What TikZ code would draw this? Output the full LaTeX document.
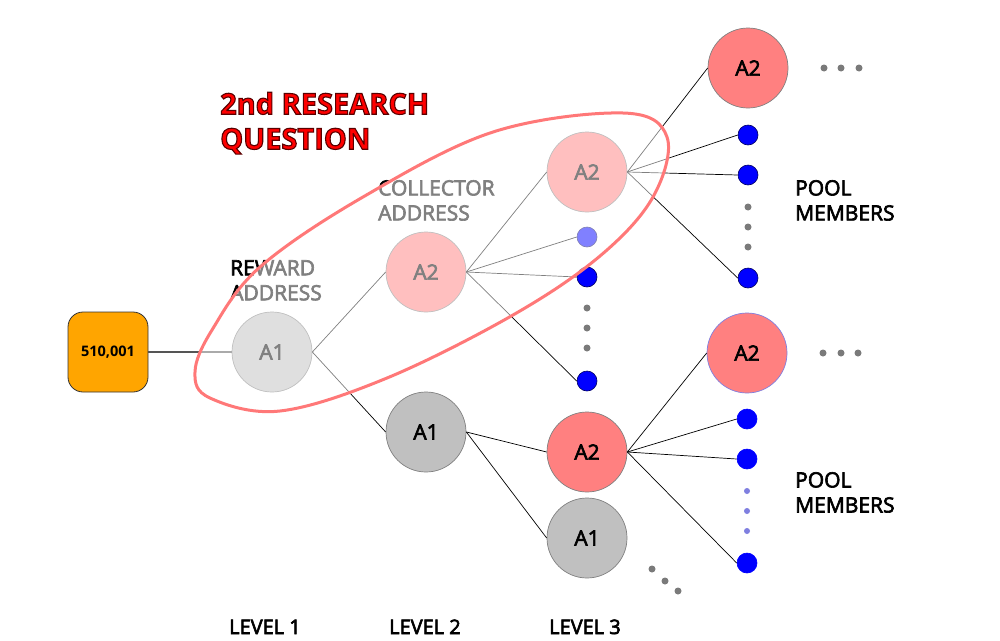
\documentclass[tikz,border=0pt]{standalone}
\usepackage{fontspec}
\setmainfont{Open Sans}
\newfontfamily\labelfont[FakeBold=3]{Open Sans}
\definecolor{orangebox}{HTML}{FFA500}
\definecolor{nodegrey}{HTML}{C0C0C0}
\definecolor{greyline}{HTML}{808080}
\definecolor{pinkA}{HTML}{FF8080}
\definecolor{dotblue}{HTML}{0000FF}
\definecolor{dotline}{HTML}{000060}
\definecolor{smalldot}{HTML}{7A7A7A}
\definecolor{bluish}{HTML}{7F7FE0}
\definecolor{ellred}{HTML}{FF7878}
\definecolor{titlered}{HTML}{FF0000}
\definecolor{srcline}{HTML}{555555}
\newcommand\outltxt[1]{\special{pdf:code q 2 Tr 1.1 w 0.35 0 0 RG}#1\special{pdf:code Q}}
\begin{document}
\begin{tikzpicture}[x=1pt,y=-1pt,
  every node/.style={font=\labelfont\fontsize{21}{25}\selectfont},
  srcbox/.style={rectangle, rounded corners=15pt, minimum size=80pt, inner sep=0pt,
    fill=orangebox, draw=black!80, line width=0.8pt,
    font=\rmfamily\bfseries\fontsize{14.5}{16}\selectfont},
  gnode/.style={circle, minimum size=80pt, inner sep=0pt, fill=nodegrey, draw=greyline, line width=0.7pt},
  rnode/.style={circle, minimum size=80pt, inner sep=0pt, fill=pinkA, draw=greyline, line width=0.7pt},
  bdot/.style={circle, minimum size=20pt, inner sep=0pt, fill=dotblue, draw=dotline, line width=0.6pt},
  bdotb/.style={circle, minimum size=20pt, inner sep=0pt, fill=dotblue, draw=dotblue, line width=0.6pt},
  gdot/.style={circle, minimum size=7pt, inner sep=0pt, fill=smalldot},
  ldot/.style={circle, minimum size=6pt, inner sep=0pt, fill=bluish},
  conn/.style={draw=black, line width=0.7pt},
  lbl/.style={anchor=north west, inner sep=0pt, align=left},
  lvl/.style={anchor=base, inner sep=0pt, font=\labelfont\fontsize{20}{24}\selectfont}
]
\path[fill=white] (0,0) rectangle (1000,640);
\useasboundingbox (0,0) rectangle (1000,640);

% nodes
\node[srcbox] (src) at (108,352) {510,001};
\node[gnode] (l1) at (272,352) {A1};
\node[rnode] (l2a) at (426,272) {A2};
\node[gnode] (l2b) at (426,432) {A1};
\node[rnode] (l3a) at (587,172) {A2};
\node[bdot] (d1) at (587,237) {};
\node[bdot] (d2) at (587,277) {};
\node[gdot] (g1) at (587,308) {};
\node[gdot] (g2) at (587,328) {};
\node[gdot] (g3) at (587,348) {};
\node[bdot] (d3) at (587,381) {};
\node[rnode] (l3b) at (587,452) {A2};
\node[gnode] (l3c) at (587,538) {A1};
\node[gdot] (e1) at (652,569) {};
\node[gdot] (e2) at (665,581) {};
\node[gdot] (e3) at (678,591) {};

\node[rnode] (l4a) at (748,68) {A2};
\node[gdot] (h1) at (824,68) {};
\node[gdot] (h2) at (841,68) {};
\node[gdot] (h3) at (859,68) {};
\node[bdot] (p1) at (748,135) {};
\node[bdot] (p2) at (748,175) {};
\node[gdot] (pg1) at (748,207) {};
\node[gdot] (pg2) at (748,227) {};
\node[gdot] (pg3) at (748,247) {};
\node[bdot] (p3) at (748,278) {};

\node[rnode, draw=bluish] (l4b) at (747,353) {A2};
\node[gdot] (k1) at (823,353) {};
\node[gdot] (k2) at (841,353) {};
\node[gdot] (k3) at (858,353) {};
\node[bdotb] (q1) at (747,419) {};
\node[bdotb] (q2) at (747,459) {};
\node[ldot] (qg1) at (747,491) {};
\node[ldot] (qg2) at (747,511) {};
\node[ldot] (qg3) at (747,531) {};
\node[bdotb] (q3) at (747,563) {};

% connectors
\draw[draw=srcline, line width=1.4pt] (src.east) -- (l1.west);
\draw[conn] (l1.east) -- (l2a.west);
\draw[conn] (l1.east) -- (l2b.west);
\draw[conn] (l2a.east) -- (l3a.west);
\draw[conn] (l2a.east) -- (d1.west);
\draw[conn] (l2a.east) -- (d2.west);
\draw[conn] (l2a.east) -- (d3.west);
\draw[conn] (l2b.east) -- (l3b.west);
\draw[conn] (l2b.east) -- (l3c.west);
\draw[conn] (l3a.east) -- (l4a.west);
\draw[conn] (l3a.east) -- (p1.west);
\draw[conn] (l3a.east) -- (p2.west);
\draw[conn] (l3a.east) -- (p3.west);
\draw[conn] (l3b.east) -- (l4b.west);
\draw[conn] (l3b.east) -- (q1.west);
\draw[conn] (l3b.east) -- (q2.west);
\draw[conn] (l3b.east) -- (q3.west);

% labels under the overlay
\node[lbl] (rew) at (230,260) {REWARD\\ADDRESS};
\node[lbl] (col) at (378,180) {COLLECTOR\\ADDRESS};

% overlay loop
\draw[draw=ellred, line width=3pt, fill=white, fill opacity=0.5]
  plot[smooth cycle, tension=0.6] coordinates {
    (195,372) (212,330) (260,267) (363,197) (493,132) (623,113) (667,137)
    (653,197) (600,256) (513,315) (387,378) (280,411) (210,398)};

% other labels
\node[lbl] (pm1) at (795,180) {POOL\\MEMBERS};
\node[lbl] (pm2) at (795,472) {POOL\\MEMBERS};
\node[lvl] (lv1) at (265,634) {LEVEL 1};
\node[lvl] (lv2) at (425,634) {LEVEL 2};
\node[lvl] (lv3) at (585,634) {LEVEL 3};
\node[lbl, text=titlered, font=\rmfamily\bfseries\fontsize{29}{35}\selectfont] (title) at (220,92)
  {\outltxt{2nd RESEARCH}\\\outltxt{QUESTION}};
\end{tikzpicture}
\end{document}
